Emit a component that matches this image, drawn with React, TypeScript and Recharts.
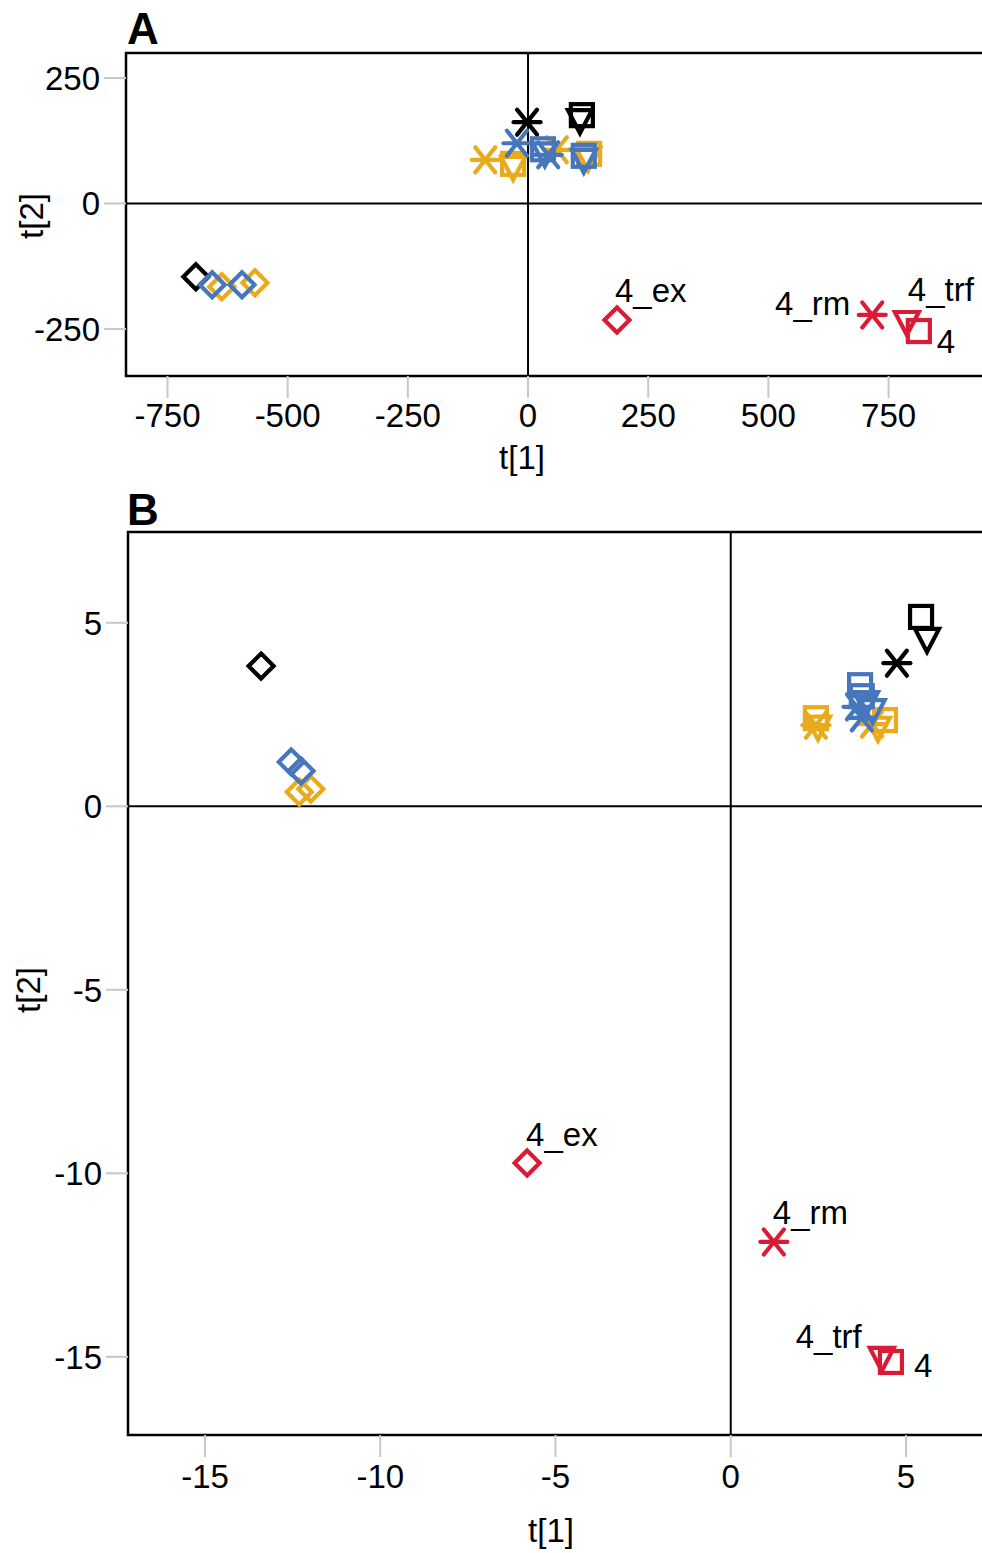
import React from 'react'
import { ScatterChart, Scatter, XAxis, YAxis, ReferenceLine, ReferenceArea, Label } from 'recharts'

const FONT = '"Liberation Sans", Arial, Helvetica, sans-serif'

type Kind = 'ex' | 'rm' | 'trf' | 'raw'
type Pt = { t1: number; t2: number; kind: Kind; name?: string }

const colors = { black: '#000000', orange: '#e9aa1c', blue: '#4677bd', red: '#db1a35' }

// ---- Panel A scores ----
const aBlack: Pt[] = [
  { t1: -691, t2: -146, kind: 'ex' },
  { t1: -2, t2: 162, kind: 'rm' },
  { t1: 108, t2: 166, kind: 'trf' },
  { t1: 112, t2: 176, kind: 'raw' },
]
const aOrange: Pt[] = [
  { t1: -637, t2: -166, kind: 'ex' },
  { t1: -568, t2: -158, kind: 'ex' },
  { t1: -89, t2: 87, kind: 'rm' },
  { t1: 60, t2: 107, kind: 'rm' },
  { t1: -31, t2: 79, kind: 'raw' },
  { t1: 127, t2: 99, kind: 'raw' },
  { t1: -31, t2: 73, kind: 'trf' },
  { t1: 125, t2: 91, kind: 'trf' },
]
const aBlue: Pt[] = [
  { t1: -657, t2: -162, kind: 'ex' },
  { t1: -595, t2: -162, kind: 'ex' },
  { t1: -23, t2: 120, kind: 'rm' },
  { t1: 42, t2: 97, kind: 'rm' },
  { t1: 31, t2: 108, kind: 'raw' },
  { t1: 116, t2: 95, kind: 'raw' },
  { t1: 35, t2: 100, kind: 'trf' },
  { t1: 116, t2: 87, kind: 'trf' },
]
const aRed: Pt[] = [
  { t1: 185, t2: -232, kind: 'ex', name: '4_ex' },
  { t1: 716, t2: -222, kind: 'rm', name: '4_rm' },
  { t1: 788, t2: -236, kind: 'trf', name: '4_trf' },
  { t1: 813, t2: -254, kind: 'raw', name: '4' },
]
const aXTicks = [-750, -500, -250, 0, 250, 500, 750]
const aYTicks = [250, 0, -250]

// ---- Panel B scores ----
const bBlack: Pt[] = [
  { t1: -13.4, t2: 3.82, kind: 'ex' },
  { t1: 4.74, t2: 3.9, kind: 'rm' },
  { t1: 5.6, t2: 4.56, kind: 'trf' },
  { t1: 5.43, t2: 5.16, kind: 'raw' },
]
const bOrange: Pt[] = [
  { t1: -12.31, t2: 0.39, kind: 'ex' },
  { t1: -11.98, t2: 0.47, kind: 'ex' },
  { t1: 2.43, t2: 2.21, kind: 'rm' },
  { t1: 4.03, t2: 2.24, kind: 'rm' },
  { t1: 2.43, t2: 2.4, kind: 'raw' },
  { t1: 4.4, t2: 2.35, kind: 'raw' },
  { t1: 2.49, t2: 2.17, kind: 'trf' },
  { t1: 4.2, t2: 2.14, kind: 'trf' },
]
const bBlue: Pt[] = [
  { t1: -12.54, t2: 1.21, kind: 'ex' },
  { t1: -12.26, t2: 0.96, kind: 'ex' },
  { t1: 3.6, t2: 2.71, kind: 'rm' },
  { t1: 3.74, t2: 2.41, kind: 'rm' },
  { t1: 3.69, t2: 3.3, kind: 'raw' },
  { t1: 3.74, t2: 3.0, kind: 'raw' },
  { t1: 4.05, t2: 2.62, kind: 'trf' },
  { t1: 3.86, t2: 2.84, kind: 'trf' },
]
const bRed: Pt[] = [
  { t1: -5.81, t2: -9.72, kind: 'ex', name: '4_ex' },
  { t1: 1.23, t2: -11.87, kind: 'rm', name: '4_rm' },
  { t1: 4.31, t2: -15.03, kind: 'trf', name: '4_trf' },
  { t1: 4.57, t2: -15.14, kind: 'raw', name: '4' },
]
const bXTicks = [-15, -10, -5, 0, 5]
const bYTicks = [5, 0, -5, -10, -15]

// label offsets from the marker (dx, dy, anchor)
type Place = [number, number, 'start' | 'end']
const aLabelPos: Record<string, Place> = {
  '4_ex': [-2, -29, 'start'],
  '4_rm': [-22, -11, 'end'],
  '4_trf': [1, -32, 'start'],
  '4': [18, 10, 'start'],
}
const bLabelPos: Record<string, Place> = {
  '4_ex': [-1, -29, 'start'],
  '4_rm': [-1, -29, 'start'],
  '4_trf': [-20, -21, 'end'],
  '4': [23, 4, 'start'],
}

function Marker({ cx, cy, kind, color, name, places }: any) {
  const sw = 4.2
  let mark: React.ReactNode = null
  if (kind === 'ex') {
    mark = <path d={`M${cx},${cy - 12.5}L${cx + 12.5},${cy}L${cx},${cy + 12.5}L${cx - 12.5},${cy}Z`} fill="none" stroke={color} strokeWidth={sw} />
  } else if (kind === 'raw') {
    mark = <rect x={cx - 11} y={cy - 11} width={22} height={22} fill="none" stroke={color} strokeWidth={sw} />
  } else if (kind === 'trf') {
    mark = <path d={`M${cx - 12},${cy - 10}L${cx + 12},${cy - 10}L${cx},${cy + 13}Z`} fill="none" stroke={color} strokeWidth={sw} />
  } else {
    mark = (
      <g stroke={color} strokeWidth={sw} strokeLinecap="round">
        <line x1={cx - 13.5} y1={cy} x2={cx + 13.5} y2={cy} />
        <line x1={cx - 10} y1={cy - 12.5} x2={cx + 10} y2={cy + 12.5} />
        <line x1={cx - 10} y1={cy + 12.5} x2={cx + 10} y2={cy - 12.5} />
      </g>
    )
  }
  const p = name ? places[name] : null
  return (
    <g>
      {mark}
      {p && (
        <text x={cx + p[0]} y={cy + p[1]} textAnchor={p[2]} dominantBaseline="central" fontSize={33} fontFamily={FONT} fill="#000">
          {name}
        </text>
      )}
    </g>
  )
}

function Panel({ series, xDomain, yDomain, xTicks, yTicks, width, height, top, yAxisWidth, xAxisHeight, tickMarginX, places, xTitle, yTitle }: any) {
  const tick = { fill: '#000', fontSize: 33, fontFamily: FONT }
  const tickLine = { stroke: '#c8c8c8', strokeWidth: 2 }
  return (
    <ScatterChart width={width} height={height} margin={{ top, right: 10, bottom: 0, left: 0 }}>
      <XAxis
        type="number"
        dataKey="t1"
        domain={xDomain}
        ticks={xTicks}
        allowDataOverflow
        axisLine={false}
        tickLine={tickLine}
        tickSize={22}
        tickMargin={tickMarginX}
        tick={tick}
        height={xAxisHeight}
      >
        <Label
          content={() => (
            <text x={xTitle[0]} y={xTitle[1]} textAnchor="middle" dominantBaseline="central" fontSize={33} fontFamily={FONT} fill="#000">
              t[1]
            </text>
          )}
        />
      </XAxis>
      <YAxis
        type="number"
        dataKey="t2"
        domain={yDomain}
        ticks={yTicks}
        allowDataOverflow
        axisLine={false}
        tickLine={tickLine}
        tickSize={22}
        tickMargin={4}
        tick={tick}
        width={yAxisWidth}
      >
        <Label
          content={() => (
            <text
              x={yTitle[0]}
              y={yTitle[1]}
              transform={`rotate(-90 ${yTitle[0]} ${yTitle[1]})`}
              textAnchor="middle"
              dominantBaseline="central"
              fontSize={33}
              fontFamily={FONT}
              fill="#000"
            >
              t[2]
            </text>
          )}
        />
      </YAxis>
      <ReferenceLine x={0} stroke="#000" strokeWidth={2} />
      <ReferenceLine y={0} stroke="#000" strokeWidth={2} />
      <ReferenceArea x1={xDomain[0]} x2={xDomain[1]} y1={yDomain[0]} y2={yDomain[1]} fill="none" fillOpacity={0} stroke="#000" strokeWidth={2.5} strokeOpacity={1} />
      {series.map((s: any) => (
        <Scatter
          key={s.key}
          data={s.data}
          isAnimationActive={false}
          shape={(p: any) => <Marker cx={p.cx} cy={p.cy} kind={p.payload.kind} name={p.payload.name} color={s.color} places={places} />}
        />
      ))}
    </ScatterChart>
  )
}

export default function App() {
  const seriesA = [
    { key: 'black', data: aBlack, color: colors.black },
    { key: 'orange', data: aOrange, color: colors.orange },
    { key: 'blue', data: aBlue, color: colors.blue },
    { key: 'red', data: aRed, color: colors.red },
  ]
  const seriesB = [
    { key: 'black', data: bBlack, color: colors.black },
    { key: 'orange', data: bOrange, color: colors.orange },
    { key: 'blue', data: bBlue, color: colors.blue },
    { key: 'red', data: bRed, color: colors.red },
  ]
  const titleStyle: React.CSSProperties = { position: 'absolute', left: 127, fontSize: 44, fontWeight: 'bold', lineHeight: '44px', fontFamily: FONT }
  return (
    <div style={{ position: 'absolute', left: 0, top: 0, width: 982, height: 1553, overflow: 'hidden', background: '#fff', fontFamily: FONT }}>
      <div style={{ position: 'absolute', left: 0, top: 0 }}>
        <Panel
          series={seriesA}
          xDomain={[-836.3, 961]}
          yDomain={[-343.6, 299.8]}
          xTicks={aXTicks}
          yTicks={aYTicks}
          width={1000}
          height={480}
          top={53}
          yAxisWidth={126}
          xAxisHeight={104}
          tickMarginX={6}
          places={aLabelPos}
          xTitle={[522, 457]}
          yTitle={[31, 216]}
        />
      </div>
      <div style={{ position: 'absolute', left: 0, top: 480 }}>
        <Panel
          series={seriesB}
          xDomain={[-17.197, 7.397]}
          yDomain={[-17.13, 7.474]}
          xTicks={bXTicks}
          yTicks={bYTicks}
          width={1000}
          height={1073}
          top={52}
          yAxisWidth={128}
          xAxisHeight={118}
          tickMarginX={8}
          places={bLabelPos}
          xTitle={[551, 1050]}
          yTitle={[28, 510]}
        />
      </div>
      <div style={{ ...titleStyle, top: 7 }}>A</div>
      <div style={{ ...titleStyle, top: 488 }}>B</div>
    </div>
  )
}
